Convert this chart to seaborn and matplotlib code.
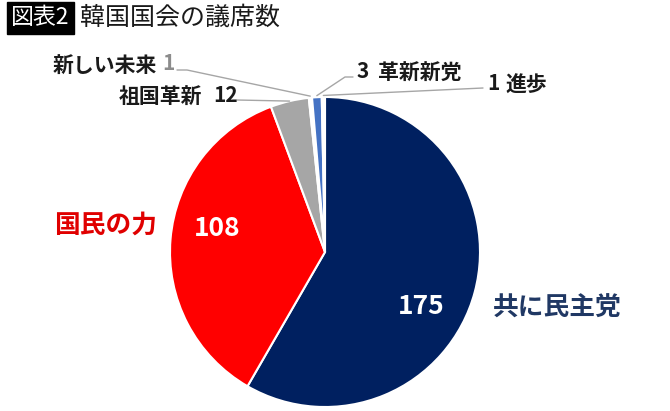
import matplotlib
matplotlib.use('Agg')
import matplotlib.pyplot as plt
from matplotlib.lines import Line2D
import seaborn as sns
import numpy as np

# データ ======================================================================
parties = ['共に民主党', '国民の力', '祖国革新', '新しい未来', '革新新党', '進歩']
seats = [175, 108, 12, 1, 3, 1]
colors = ['#002060', '#FF0000', '#A6A6A6', '#FFFFFF', '#4472C4', '#FFFFFF']

title_tag = '図表2'
title_text = '韓国国会の議席数'

# スタイル ====================================================================
sns.set_theme(style='white')
plt.rcParams['font.family'] = ['Noto Sans CJK JP', 'DejaVu Sans']

W, H = 670, 411
fig = plt.figure(figsize=(W / 100, H / 100), dpi=100)
fig.patch.set_facecolor('white')


def fx(x):
    return x / W


def fy(y):
    return 1 - y / H


# 円グラフ (中心 325,252 / 半径 155 px)
cx, cy, r = 325, 252, 155
ax = fig.add_axes([fx(cx - r), fy(cy + r), 2 * r / W, 2 * r / H])
wedges, _ = ax.pie(seats, colors=colors, startangle=90, counterclock=False,
                   wedgeprops=dict(edgecolor='white', linewidth=1.5))
ax.set_xlim(-1, 1)
ax.set_ylim(-1, 1)
ax.set_aspect('equal')
ax.axis('off')


def wedge_point(w, rad=1.0):
    ang = np.deg2rad((w.theta1 + w.theta2) / 2)
    p = ax.transData.transform((rad * np.cos(ang), rad * np.sin(ang)))
    return fig.transFigure.inverted().transform(p)


# 内側ラベル
fig.text(fx(421), fy(307), str(seats[0]), color='white', fontsize=19,
         fontweight='bold', ha='center', va='center')
fig.text(fx(217), fy(228), str(seats[1]), color='white', fontsize=19,
         fontweight='bold', ha='center', va='center')

# 外側の大きいラベル
fig.text(fx(493), fy(308), parties[0], color='#203864', fontsize=18.5,
         fontweight='bold', ha='left', va='center')
fig.text(fx(157), fy(225), parties[1], color='#E00000', fontsize=18.5,
         fontweight='bold', ha='right', va='center')

# 小政党ラベルと引き出し線
line_color = '#A6A6A6'
lab_kw = dict(fontsize=15, fontweight='bold', va='center')

# 祖国革新 12
fig.text(fx(202), fy(97), parties[2], color='#1a1a1a', ha='right', **lab_kw)
fig.text(fx(213), fy(95), str(seats[2]), color='#1a1a1a', ha='left', **lab_kw)
p = wedge_point(wedges[2], 1.0)
fig.add_artist(Line2D([fx(237), p[0]], [fy(100), p[1]], color=line_color, lw=1))

# 新しい未来 1
fig.text(fx(157), fy(66), parties[3], color='#1a1a1a', ha='right', **lab_kw)
fig.text(fx(162), fy(64), str(seats[3]), color='#8c8c8c', ha='left', **lab_kw)
p = wedge_point(wedges[3], 1.01)
fig.add_artist(Line2D([fx(177), fx(187), p[0]], [fy(70), fy(70), p[1]],
                      color=line_color, lw=1))

# 3 革新新党
fig.text(fx(357), fy(71), str(seats[4]), color='#1a1a1a', ha='left', **lab_kw)
fig.text(fx(378), fy(73), parties[4], color='#1a1a1a', ha='left', **lab_kw)
p = wedge_point(wedges[4], 1.01)
fig.add_artist(Line2D([fx(353), fx(345), p[0]], [fy(77), fy(77), p[1]],
                      color=line_color, lw=1))

# 1 進歩
fig.text(fx(487), fy(83), str(seats[5]), color='#1a1a1a', ha='left', **lab_kw)
fig.text(fx(505), fy(85), parties[5], color='#1a1a1a', ha='left', **lab_kw)
p = wedge_point(wedges[5], 1.01)
fig.add_artist(Line2D([fx(483), p[0]], [fy(88), p[1]], color=line_color, lw=1))

# タイトル
fig.text(fx(40.5), fy(18), title_tag, color='white', fontsize=16.5, ha='center',
         va='center', bbox=dict(boxstyle='square,pad=0.18', fc='black', ec='black'))
fig.text(fx(80), fy(18), title_text, color='#1a1a1a', fontsize=18,
         ha='left', va='center')

fig.savefig('out.png', dpi=100, facecolor='white')
